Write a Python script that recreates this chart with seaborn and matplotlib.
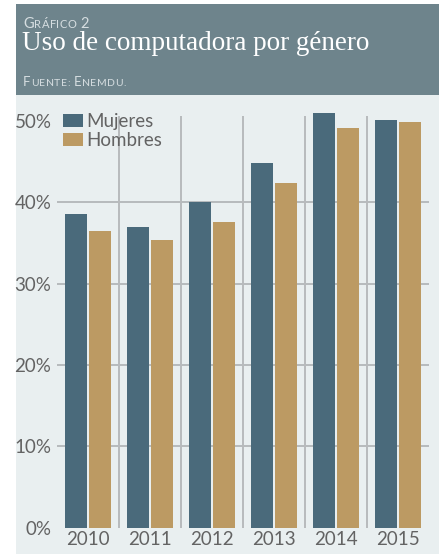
import matplotlib
matplotlib.use("Agg")
import matplotlib.pyplot as plt
from matplotlib.patches import Rectangle
import pandas as pd
import seaborn as sns

# Datos: uso de computadora (%) por género
years = ["2010", "2011", "2012", "2013", "2014", "2015"]
mujeres = [38.5, 36.9, 40.0, 44.8, 50.9, 50.1]
hombres = [36.4, 35.3, 37.5, 42.3, 49.1, 49.8]
series_names = ["Mujeres", "Hombres"]
y_ticks = [0, 10, 20, 30, 40, 50]
y_tick_labels = ["0%", "10%", "20%", "30%", "40%", "50%"]

colors = {"Mujeres": "#4a6a7b", "Hombres": "#bc9a63"}
band_color = "#6e848c"
panel_color = "#e9eff0"
text_grey = "#636363"
grid_grey = "#adb1b3"

df = pd.DataFrame({
    "anio": years * 2,
    "valor": mujeres + hombres,
    "genero": [series_names[0]] * len(years) + [series_names[1]] * len(years),
})

W, H = 444, 554
sns.set_theme(style="white")
plt.rcParams["font.family"] = ["Lato", "DejaVu Sans"]
fig = plt.figure(figsize=(W / 100, H / 100), dpi=100)
fig.patch.set_facecolor("white")


def fx(px):
    return px / W


def fy(py):
    return 1 - py / H


# Cabecera y panel de fondo
fig.patches.append(Rectangle((fx(16), fy(95)), fx(439) - fx(16), fy(4) - fy(95),
                             transform=fig.transFigure, facecolor=band_color,
                             edgecolor="none", zorder=-10))
fig.patches.append(Rectangle((fx(16), fy(554)), fx(439) - fx(16), fy(95) - fy(554),
                             transform=fig.transFigure, facecolor=panel_color,
                             edgecolor="none", zorder=-10))

# Área del gráfico
y0_px, ytop = 527.7, 52.0
px_per_unit = 8.14
top_px = y0_px - ytop * px_per_unit
ax = fig.add_axes([fx(57), fy(y0_px), fx(429) - fx(57), (y0_px - top_px) / H])
ax.set_facecolor("none")

sns.barplot(data=df, x="anio", y="valor", hue="genero", palette=colors,
            width=0.78, gap=0.08, saturation=1, edgecolor="none",
            linewidth=0, ax=ax, legend=True, zorder=3)

ax.set_xlim(-0.5, len(years) - 0.5)
ax.set_ylim(0, ytop)
for v in y_ticks[1:-1]:
    ax.axhline(v, color=grid_grey, lw=1.2, zorder=1)
for i in range(len(years) - 1):
    ax.vlines(i + 0.5, 0, 50.6, color="#b7babc", lw=1.4, zorder=1)

for s in ax.spines.values():
    s.set_visible(False)
ax.set_xlabel("")
ax.set_ylabel("")
ax.set_yticks(y_ticks)
ax.set_yticklabels(y_tick_labels)
ax.tick_params(axis="y", length=0, pad=4, labelsize=13.5, labelcolor=text_grey)
ax.tick_params(axis="x", length=0, pad=2.5, labelsize=13.5, labelcolor=text_grey)

fs = 13.5
fs_px = fs * 100 / 72
leg = ax.legend(loc="upper left", bbox_to_anchor=(fx(63), fy(113)),
                bbox_transform=fig.transFigure, frameon=False, fontsize=fs,
                handlelength=20 / fs_px, handleheight=13 / fs_px,
                handletextpad=3 / fs_px, labelspacing=0.1,
                borderpad=0, borderaxespad=0)
for t in leg.get_texts():
    t.set_color(text_grey)

# Textos de la cabecera (versalitas simuladas)
renderer = fig.canvas.get_renderer()


def small_caps(x_px, y_px, text, big, small, color):
    x = x_px
    words = text.split(" ")
    for wi, word in enumerate(words):
        for ch in word:
            is_big = ch.isupper() or ch.isdigit()
            t = fig.text(fx(x), fy(y_px), ch.upper(), fontsize=big if is_big else small,
                         color=color, va="baseline", ha="left")
            bb = t.get_window_extent(renderer)
            x += bb.width + 0.5
        if wi < len(words) - 1:
            x += small * 100 / 72 * 0.3


small_caps(23, 28, "Gráfico 2", 10.5, 8, "#d6dee1")
fig.text(fx(22), fy(50), "Uso de computadora por género", fontsize=19.5,
         family=["Liberation Serif", "DejaVu Serif"], color="white",
         va="baseline", ha="left")
small_caps(23, 86, "Fuente: Enemdu.", 9.5, 7.5, "#d6dee1")

fig.savefig("out.png", dpi=100, facecolor="white")
